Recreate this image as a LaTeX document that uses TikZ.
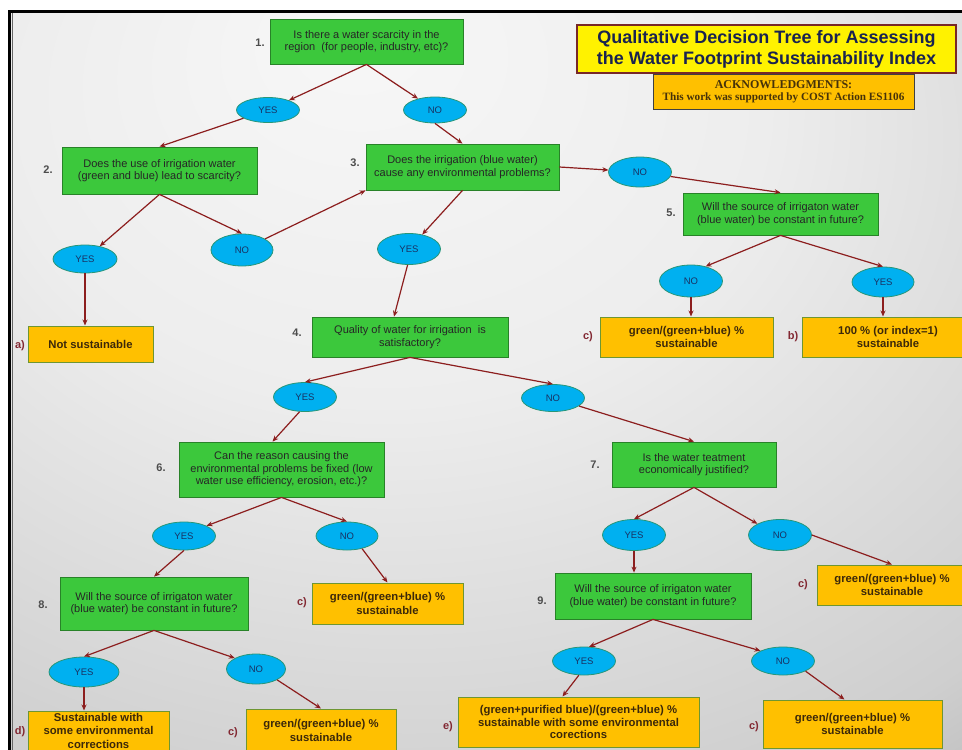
\documentclass[tikz,border=0pt]{standalone}
\usepackage{fontspec}
\setmainfont{Liberation Sans}
\newfontfamily\ackfont{Liberation Serif}
\usetikzlibrary{calc,shapes.geometric,arrows.meta}
\definecolor{gfill}{RGB}{60,200,60}
\definecolor{gdraw}{RGB}{40,130,40}
\definecolor{efill}{RGB}{0,176,240}
\definecolor{edraw}{RGB}{40,150,120}
\definecolor{ofill}{RGB}{255,192,0}
\definecolor{odraw}{RGB}{110,150,50}
\definecolor{arr}{RGB}{140,30,30}
\definecolor{lab}{RGB}{130,40,50}
\definecolor{navy}{RGB}{25,35,80}
\definecolor{etext}{RGB}{25,50,100}
\definecolor{rtext}{RGB}{60,40,10}
\definecolor{acktext}{RGB}{70,50,10}
\definecolor{titledraw}{RGB}{120,40,40}
\pgfdeclareradialshading{bgshade}{\pgfpoint{-7bp}{24bp}}{color(0bp)=(black!3); color(20bp)=(black!7); color(43bp)=(black!19); color(57bp)=(black!35); color(90bp)=(black!44)}
\newcommand\gfont{\fontsize{11}{12.5}\selectfont}
\newcommand\rfont{\bfseries\fontsize{11.3}{13.5}\selectfont}
\newcommand\efont{\fontsize{9.5}{11}\selectfont}
\tikzset{
  gbox/.style={draw=gdraw, fill=gfill, line width=0.8pt, align=center, inner sep=0pt, font=\gfont, text=black!85},
  rbox/.style={draw=odraw, fill=ofill, line width=1pt, align=center, inner sep=0pt, font=\rfont, text=rtext},
  ell/.style={ellipse, draw=edraw, fill=efill, line width=0.8pt, inner sep=0pt, font=\efont, text=etext},
  num/.style={font=\bfseries\fontsize{11}{12}\selectfont, text=black!70},
  lbl/.style={font=\bfseries\fontsize{11}{13}\selectfont, text=lab},
  conn/.style={draw=arr, line width=1.2pt, -{Stealth[length=6pt,width=5pt]}}
}
\begin{document}
\begin{tikzpicture}[x=1pt,y=-1pt]
\useasboundingbox (0,0) rectangle (962,750);
\clip (0,0) rectangle (962,750);
\fill[white] (0,0) rectangle (962,750);
\shade[shading=bgshade] (10,12) rectangle (962,750);
\draw[line width=3pt] (9,760) -- (9,11.3) -- (970,11.3);
\draw[black!60, line width=0.8pt] (12.5,760) -- (12.5,13);

% title
\node[draw=titledraw, fill=yellow, line width=1.3pt, minimum width=379pt, minimum height=48pt, inner sep=0pt, align=center, text=navy, font=\bfseries\fontsize{18}{21}\selectfont] (title) at (766.5,49) {Qualitative Decision Tree for Assessing\\the Water Footprint Sustainability Index};
\node[draw=black!75, fill=ofill, line width=1pt, minimum width=261pt, minimum height=35pt, inner sep=0pt, align=center, text=acktext, font=\ackfont\bfseries] (ack) at (783.5,91.5) {{\fontsize{12}{15}\selectfont ACKNOWLEDGMENTS:}\\{\fontsize{11.2}{13}\selectfont This work was supported by COST Action ES1106}};

% question boxes
\node[gbox, minimum width=193pt, minimum height=45pt] (b1) at (366.5,41.5) {Is there a water scarcity in the\\region\ \ (for people, industry, etc)?};
\node[gbox, minimum width=195pt, minimum height=47pt] (b2) at (159.5,170.5) {Does the use of irrigation water\\(green and blue) lead to scarcity?};
\node[gbox, minimum width=193pt, minimum height=46pt] (b3) at (462.5,167) {Does the irrigation (blue water)\\cause any environmental problems?};
\node[gbox, minimum width=196pt, minimum height=40pt] (b4) at (410,337) {Quality of water for irrigation\ \ is\\satisfactory?};
\node[gbox, minimum width=195pt, minimum height=42pt] (b5) at (780.5,214) {Will the source of irrigaton water\\(blue water) be constant in future?};
\node[gbox, minimum width=205pt, minimum height=55pt] (b6) at (281.5,469.5) {Can the reason causing the\\environmental problems be fixed (low\\water use efficiency, erosion, etc.)?};
\node[gbox, minimum width=164pt, minimum height=45pt] (b7) at (694,464.5) {Is the water teatment\\economically justified?};
\node[gbox, minimum width=188pt, minimum height=53pt] (b8) at (154,603.5) {Will the source of irrigaton water\\(blue water) be constant in future?};
\node[gbox, minimum width=196pt, minimum height=46pt] (b9) at (653,596) {Will the source of irrigaton water\\(blue water) be constant in future?};

% number labels
\node[num] (l1) at (260,43) {1.};
\node[num] (l2) at (48,170) {2.};
\node[num] (l3) at (355,163) {3.};
\node[num] (l4) at (297,333) {4.};
\node[num] (l5) at (671,213) {5.};
\node[num] (l6) at (161,468) {6.};
\node[num] (l7) at (595,465) {7.};
\node[num] (l8) at (43,605) {8.};
\node[num] (l9) at (542,601) {9.};

% result boxes
\node[rbox, minimum width=125pt, minimum height=36pt] (ra) at (90.5,344) {Not sustainable};
\node[rbox, minimum width=173pt, minimum height=40pt] (rc5) at (686.5,337) {green/(green+blue) \%\\sustainable};
\node[rbox, minimum width=172pt, minimum height=40pt] (rb) at (888,337) {100 \% (or index=1)\\sustainable};
\node[rbox, minimum width=151pt, minimum height=41pt] (rc6) at (387.5,603.5) {green/(green+blue) \%\\sustainable};
\node[rbox, minimum width=150pt, minimum height=40pt] (rc7) at (892,585) {green/(green+blue) \%\\sustainable};
\node[rbox, minimum width=141pt, minimum height=39pt] (rd) at (98.5,730.5) {Sustainable with\\some environmental\\corrections};
\node[rbox, minimum width=150pt, minimum height=43pt] (rc8) at (321,730.5) {green/(green+blue) \%\\sustainable};
\node[rbox, minimum width=241pt, minimum height=50pt, font=\bfseries\fontsize{11.3}{12.5}\selectfont] (re) at (578.5,722) {(green+purified blue)/(green+blue) \%\\sustainable with some environmental\\corections};
\node[rbox, minimum width=179pt, minimum height=48pt] (rc9) at (852.5,724) {green/(green+blue) \%\\sustainable};

% result labels
\node[lbl] (la) at (20,346) {a)};
\node[lbl] (lc5) at (588,337) {c)};
\node[lbl] (lb) at (793,337) {b)};
\node[lbl] (lc6) at (302,603) {c)};
\node[lbl] (lc7) at (803,585) {c)};
\node[lbl] (ld) at (20,732) {d)};
\node[lbl] (lc8) at (233,733) {c)};
\node[lbl] (le) at (448,727) {e)};
\node[lbl] (lc9) at (754,727) {c)};

% ellipses
\node[ell, minimum width=63pt, minimum height=25pt] (y1) at (268,110) {YES};
\node[ell, minimum width=63pt, minimum height=26pt] (n1) at (435,110) {NO};
\node[ell, minimum width=63pt, minimum height=30pt] (n3) at (640,172) {NO};
\node[ell, minimum width=64pt, minimum height=28pt] (y2) at (85,259) {YES};
\node[ell, minimum width=62pt, minimum height=32pt] (n2) at (242,250) {NO};
\node[ell, minimum width=63pt, minimum height=31pt] (y3) at (409,249) {YES};
\node[ell, minimum width=63pt, minimum height=32pt] (n5) at (691,281) {NO};
\node[ell, minimum width=62pt, minimum height=30pt] (y5) at (883,282) {YES};
\node[ell, minimum width=63pt, minimum height=29pt] (y4) at (305,397) {YES};
\node[ell, minimum width=63pt, minimum height=27pt] (n4) at (553,398) {NO};
\node[ell, minimum width=63pt, minimum height=28pt] (y6) at (184,536) {YES};
\node[ell, minimum width=62pt, minimum height=28pt] (n6) at (347,536) {NO};
\node[ell, minimum width=63pt, minimum height=31pt] (y7) at (634,535) {YES};
\node[ell, minimum width=63pt, minimum height=31pt] (n7) at (780,535) {NO};
\node[ell, minimum width=70pt, minimum height=30pt] (y8) at (84,672) {YES};
\node[ell, minimum width=59pt, minimum height=30pt] (n8) at (256,669) {NO};
\node[ell, minimum width=63pt, minimum height=28pt] (y9) at (584,661) {YES};
\node[ell, minimum width=63pt, minimum height=28pt] (n9) at (783,661) {NO};

% connectors
\draw[conn] (b1.south) -- (y1);
\draw[conn] (b1.south) -- (n1);
\draw[conn] (y1) -- (b2.north);
\draw[conn] (n1.south) -- (b3.north);
\draw[conn] (b2.south) -- (y2);
\draw[conn] (b2.south) -- (n2.north);
\draw[conn] (n2) -- (b3.south west);
\draw[conn] (b3.south) -- (y3);
\draw[conn] (b3.east) -- (n3);
\draw[conn] (n3) -- (b5.north);
\draw[conn] (b5.south) -- (n5.45);
\draw[conn] (b5.south) -- (y5.north);
\draw[conn] (n5.south) -- (n5.south |- rc5.north);
\draw[conn] (y5.south) -- (y5.south |- rb.north);
\draw[conn] (y2.south) -- (y2.south |- ra.north);
\draw[conn] (y3.265) -- ($(b4.north)+(-16,0)$);
\draw[conn] (b4.south) -- (y4.north);
\draw[conn] (b4.south) -- (n4.north);
\draw[conn] (y4.250) -- ($(b6.north)+(-9,0)$);
\draw[conn] (n4) -- (b7.north);
\draw[conn] (b6.south) -- (y6.north east);
\draw[conn] (b6.south) -- (n6.north);
\draw[conn] (y6.south) -- (b8.north);
\draw[conn] (n6.-40) -- (rc6.north);
\draw[conn] (b7.south) -- (y7.north);
\draw[conn] (b7.south) -- (n7.north west);
\draw[conn] (y7.south) -- (y7.south |- b9.north);
\draw[conn] (n7.east) -- (rc7.north);
\draw[conn] (b8.south) -- (y8.north);
\draw[conn] (b8.south) -- (n8.north west);
\draw[conn] (y8.south) -- (y8.south |- rd.north);
\draw[conn] (n8.south east) -- (rc8.north);
\draw[conn] (b9.south) -- (y9.70);
\draw[conn] (b9.south) -- (n9.north west);
\draw[conn] (y9.250) -- ($(re.north)+(-16,0)$);
\draw[conn] (n9.south east) -- ($(rc9.north)+(-8,0)$);
\end{tikzpicture}
\end{document}
